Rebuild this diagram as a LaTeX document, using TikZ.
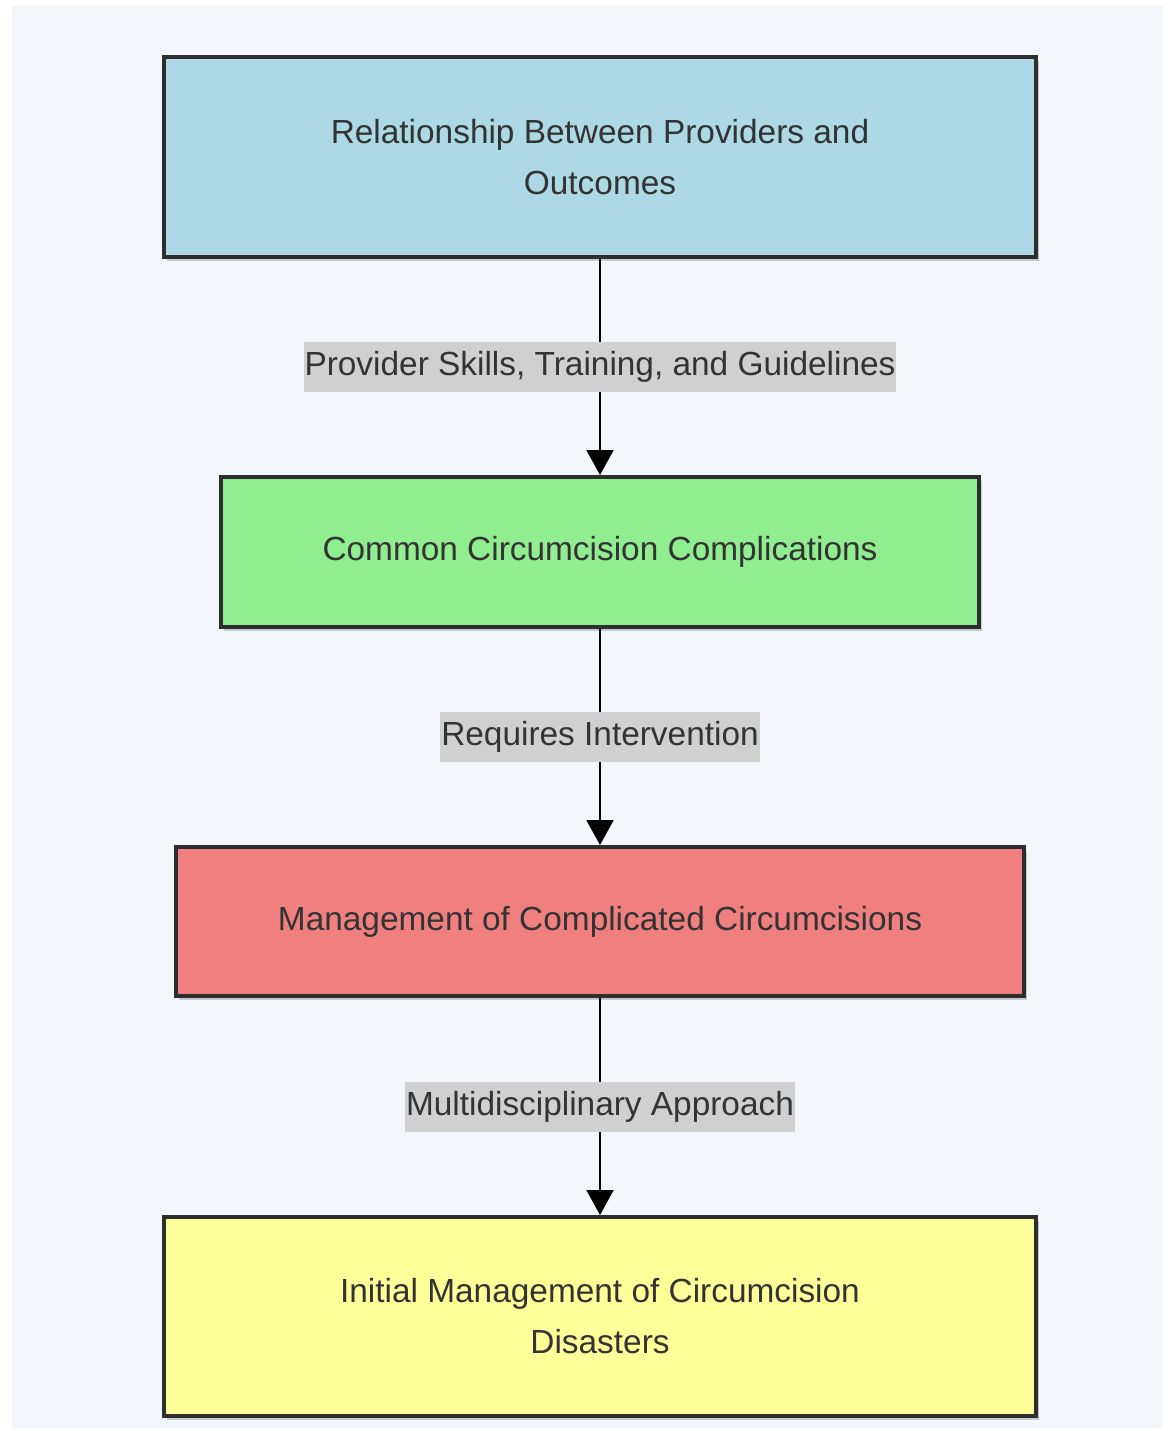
\documentclass[tikz,border=0pt]{standalone}
\usepackage{fontspec}
\setmainfont{Liberation Sans}
\usetikzlibrary{arrows.meta,shadows}
\definecolor{bgc}{HTML}{F3F6FB}
\definecolor{txt}{HTML}{333333}
\definecolor{edgec}{HTML}{2E2E2E}
\definecolor{lblbg}{HTML}{D0D0D0}
\definecolor{cblue}{HTML}{ADD8E6}
\definecolor{cgreen}{HTML}{90EE90}
\definecolor{cred}{HTML}{F08080}
\definecolor{cyellow}{HTML}{FFFF99}
\tikzset{
  box/.style={draw=edgec, line width=4pt, rectangle, align=center, text=txt,
    font=\fontsize{33.4}{51}\selectfont,
    drop shadow={shadow xshift=3pt, shadow yshift=-4pt, opacity=0.18, fill=black}},
  lbl/.style={fill=lblbg, text=txt, inner xsep=1pt, inner ysep=0pt, minimum height=50pt,
    font=\fontsize{33.4}{40}\selectfont},
  conn/.style={draw=black, line width=2pt, -{Triangle[length=25pt,width=27pt]}}
}
\begin{document}
\begin{tikzpicture}[x=1pt,y=-1pt]
\useasboundingbox (0,0) rectangle (1169,1431);
\fill[white] (0,0) rectangle (1169,1431);
\fill[bgc] (12,6) rectangle (1163,1428);
\node[box, fill=cblue, minimum width=872pt, minimum height=200pt] (a) at (600,157)
  {Relationship Between Providers and\\Outcomes};
\node[box, fill=cgreen, minimum width=758pt, minimum height=150pt] (b) at (600,552)
  {Common Circumcision Complications};
\node[box, fill=cred, minimum width=848pt, minimum height=149pt] (c) at (600,921.5)
  {Management of Complicated Circumcisions};
\node[box, fill=cyellow, minimum width=872pt, minimum height=199pt] (d) at (600,1316.5)
  {Initial Management of Circumcision\\Disasters};
\draw[conn] (a.south) -- (b.north) node[pos=0.5, lbl] (la) {Provider Skills, Training, and Guidelines};
\draw[conn] (b.south) -- (c.north) node[pos=0.5, lbl] (lb) {Requires Intervention};
\draw[conn] (c.south) -- (d.north) node[pos=0.5, lbl] (lc) {Multidisciplinary Approach};
\end{tikzpicture}
\end{document}
